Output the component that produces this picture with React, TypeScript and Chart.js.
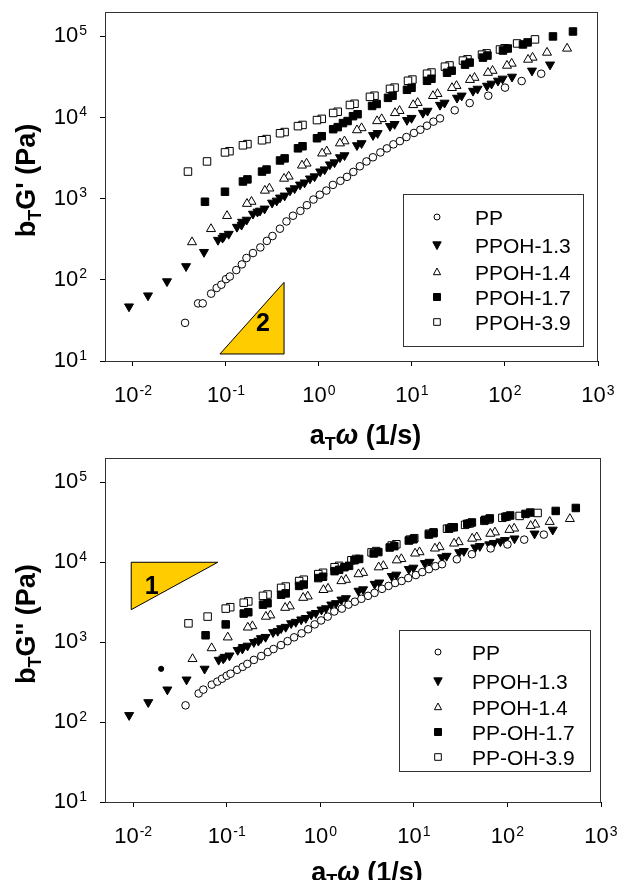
import React, { useEffect, useRef } from 'react';
import { Chart, registerables } from 'chart.js';

Chart.register(...registerables);

const FONT = '"Liberation Sans", Arial, Helvetica, sans-serif';

// ---------- data (frequency a_T·ω in 1/s, moduli in Pa) ----------
const ppFreq = [0.0363, 0.0501, 0.0562, 0.0692, 0.0794, 0.0891, 0.100, 0.110, 0.129, 0.148, 0.166, 0.195, 0.234, 0.275, 0.316, 0.380, 0.447, 0.525, 0.631, 0.741, 0.871, 1.02, 1.20, 1.41, 1.70, 2.00, 2.34, 2.75, 3.24, 3.80, 4.57, 5.37, 6.31, 7.41, 8.71, 10.5, 12.3, 14.5, 17.0, 20.0, 28.8, 41.7, 66.1, 100, 151, 245];
const ppG1 = [29.5, 51.3, 51.3, 67.6, 79.4, 87.1, 102, 110, 132, 155, 186, 214, 251, 302, 347, 427, 525, 617, 708, 832, 977, 1120, 1260, 1480, 1660, 1860, 2140, 2510, 2880, 3240, 3720, 4170, 4680, 5130, 5750, 6460, 7080, 7940, 8910, 9770, 12300, 15100, 18600, 23400, 28200, 34700];
const ppG2 = [162, 228, 255, 294, 321, 349, 380, 403, 451, 491, 535, 600, 671, 753, 820, 919, 1030, 1150, 1290, 1450, 1670, 1870, 2090, 2420, 2630, 2950, 3210, 3490, 3800, 4140, 4650, 5060, 5510, 5830, 6340, 6920, 7530, 8200, 8930, 9450, 10900, 12600, 14900, 16700, 19200, 22200];

const oh13Freq = [0.00906, 0.0145, 0.0232, 0.0372, 0.0580, 0.0820, 0.0951, 0.131, 0.149, 0.195, 0.232, 0.313, 0.381, 0.488, 0.625, 0.800, 1.03, 1.31, 1.68, 2.56, 3.81, 5.80, 8.83, 13.1, 20.0, 30.5, 45.3, 64.0, 84.1, 119, 195, 305];
const oh13G1 = [46.9, 64.1, 95.7, 147, 220, 310, 347, 449, 518, 651, 710, 891, 1030, 1260, 1490, 1770, 2160, 2640, 3230, 4550, 6060, 7840, 9310, 11400, 14300, 17500, 21300, 24600, 28400, 31800, 37800, 44900];
const oh13G2 = [122, 177, 255, 340, 464, 600, 653, 796, 867, 1000, 1120, 1330, 1490, 1720, 1920, 2220, 2550, 2950, 3400, 4390, 5350, 6710, 8200, 9730, 11500, 13300, 15300, 16700, 18200, 19800, 22800, 25500];
// second, overlapping run
const oh13FreqB = [0.0918, 0.107, 0.147, 0.167, 0.218, 0.260, 0.351, 0.427, 0.547, 0.700, 0.896, 1.15, 1.47, 1.88, 2.87, 4.27, 6.50, 9.89, 14.7, 22.4, 34.2, 50.7, 71.7, 94.2];
const oh13G1B = [329, 368, 476, 549, 690, 753, 944, 1090, 1340, 1580, 1880, 2290, 2800, 3420, 4820, 6420, 8310, 9870, 12100, 15200, 18600, 22600, 26100, 30100];
const oh13G2B = [624, 679, 828, 902, 1040, 1160, 1380, 1550, 1790, 2000, 2310, 2650, 3070, 3540, 4570, 5560, 6980, 8530, 10100, 12000, 13800, 15900, 17400, 18900];

const oh14Freq = [0.0431, 0.0690, 0.1026, 0.168, 0.262, 0.421, 0.656, 1.08, 1.68, 2.56, 4.21, 6.56, 10.3, 16.8, 26.9, 42.0, 65.6, 105, 177, 283, 465];
const oh14G1 = [292, 424, 615, 867, 1260, 1770, 2570, 3620, 4820, 7000, 9060, 11400, 14300, 18500, 23200, 29200, 35700, 43700, 51800, 63200, 71000];
const oh14G2 = [617, 843, 1150, 1530, 2090, 2700, 3600, 4510, 5820, 7110, 8670, 10600, 12900, 14900, 17200, 19800, 22800, 25500, 28600, 32100, 34900];
const oh14FreqB = [0.188, 0.293, 0.472, 0.735, 1.21, 1.88, 2.87, 4.72, 7.35, 11.5, 18.8, 30.1, 47.0, 73.5, 118, 198];
const oh14G1B = [919, 1340, 1880, 2720, 3840, 5110, 7420, 9600, 12100, 15200, 19600, 24600, 31000, 37800, 46300, 54900];
const oh14G2B = [1590, 2170, 2810, 3740, 4690, 6050, 7390, 9020, 11000, 13400, 15500, 17900, 20600, 23700, 26500, 29700];

const oh17Freq = [0.0594, 0.0975, 0.152, 0.244, 0.381, 0.594, 0.951, 1.42, 1.81, 2.32, 3.72, 5.52, 8.83, 14.5, 23.8, 37.2, 57.9, 95.1, 156, 328, 538];
const oh17G1 = [918, 1220, 1630, 2160, 2960, 4180, 5560, 7190, 8550, 10400, 13900, 17500, 22000, 28400, 35700, 44900, 54800, 67000, 79600, 100000, 115000];
const oh17G2 = [1220, 1670, 2280, 2950, 3920, 5060, 6340, 7740, 8670, 10600, 12900, 15300, 18700, 22200, 26300, 30300, 34000, 37000, 40300, 43900, 47800];
const oh17FreqB = [0.170, 0.273, 0.427, 0.665, 1.07, 1.59, 2.03, 2.60, 4.17, 6.18, 9.89, 16.2, 26.7, 41.7, 64.8, 107, 175];
const oh17G1B = [1730, 2290, 3140, 4430, 5890, 7620, 9060, 11000, 14700, 18600, 23300, 30100, 37800, 47600, 58100, 71000, 84400];
const oh17G2B = [2370, 3070, 4080, 5260, 6590, 8050, 9020, 11000, 13400, 15900, 19400, 23100, 27400, 31500, 35400, 38500, 41900];

const oh39Freq = [0.0390, 0.0625, 0.0975, 0.152, 0.244, 0.381, 0.594, 0.951, 1.42, 2.15, 3.53, 5.80, 9.06, 14.5, 22.6, 35.3, 56.6, 88.3, 135, 210];
const oh39G1 = [2160, 2880, 3720, 4550, 5250, 6410, 7840, 9310, 11400, 14300, 18000, 22600, 28400, 34700, 42400, 50400, 59700, 69000, 81900, 91900];
const oh39G2 = [1720, 2090, 2630, 3120, 3800, 4780, 5820, 7110, 8670, 10600, 13300, 16200, 19200, 22800, 26300, 29400, 33000, 36000, 38000, 41400];
const oh39FreqB = [0.109, 0.170, 0.273, 0.427, 0.665, 1.07, 1.59, 2.41, 3.95, 6.50, 10.1, 16.2, 25.3, 39.5, 63.4, 98.9];
const oh39G1B = [3850, 4710, 5430, 6630, 8110, 9640, 11800, 14800, 18600, 23400, 29400, 35900, 43900, 52200, 61800, 71400];
const oh39G2B = [2740, 3240, 3950, 4970, 6050, 7390, 9020, 11000, 13800, 16800, 20000, 23700, 27400, 30600, 34300, 37400];

const strayFreq = [0.0199];
const strayG2 = [464];

const topLabels = ['PP', 'PPOH-1.3', 'PPOH-1.4', 'PPOH-1.7', 'PPOH-3.9'];
const bottomLabels = ['PP', 'PPOH-1.3', 'PPOH-1.4', 'PP-OH-1.7', 'PP-OH-3.9'];

const xDecades = [0.01, 0.1, 1, 10, 100, 1000];
const yDecades = [10, 100, 1000, 10000, 100000];
const xMin = 0.005;
const xMax = 1000;
const yMin = 10;
const yMax = 200000;

// slope triangles (data coordinates)
const slope2X = [0.0861, 0.421];
const slope2Y = [12.2, 93.2];
const slope2Label = { x: 0.25, y: 29.7, text: '2' };
const slope1X = [0.00953, 0.0802];
const slope1Y = [2550, 10000];
const slope1Label = { x: 0.0158, y: 5060, text: '1' };

// ---------- styles ----------
type Kind = 'circle' | 'triDown' | 'triUp' | 'sq';
const markers: { kind: Kind; filled: boolean }[] = [
  { kind: 'circle', filled: false },
  { kind: 'triDown', filled: true },
  { kind: 'triUp', filled: false },
  { kind: 'sq', filled: true },
  { kind: 'sq', filled: false },
];

function pointProps(kind: Kind, filled: boolean) {
  const base: any = {
    backgroundColor: filled ? '#000' : '#fff',
    borderColor: '#000',
    borderWidth: 1,
    showLine: false,
  };
  if (kind === 'circle') return { ...base, pointStyle: 'circle', pointRadius: 3.8, pointRotation: 0 };
  if (kind === 'triDown') return { ...base, pointStyle: 'triangle', pointRadius: 5.2, pointRotation: 180 };
  if (kind === 'triUp') return { ...base, pointStyle: 'triangle', pointRadius: 5.2, pointRotation: 0 };
  return { ...base, pointStyle: 'rect', pointRadius: 5.3, pointRotation: 0 };
}

function zip(xs: number[], ys: number[]) {
  return xs.map((x, i) => ({ x, y: ys[i] }));
}

function drawMarker(ctx: CanvasRenderingContext2D, kind: Kind, filled: boolean, x: number, y: number, s: number) {
  ctx.beginPath();
  if (kind === 'circle') ctx.arc(x, y, s, 0, Math.PI * 2);
  else if (kind === 'sq') ctx.rect(x - s, y - s, 2 * s, 2 * s);
  else if (kind === 'triUp') {
    ctx.moveTo(x, y - s * 1.1);
    ctx.lineTo(x + s, y + s * 0.75);
    ctx.lineTo(x - s, y + s * 0.75);
    ctx.closePath();
  } else {
    ctx.moveTo(x, y + s * 1.1);
    ctx.lineTo(x + s, y - s * 0.75);
    ctx.lineTo(x - s, y - s * 0.75);
    ctx.closePath();
  }
  ctx.fillStyle = filled ? '#000' : '#fff';
  ctx.fill();
  ctx.lineWidth = 1;
  ctx.strokeStyle = '#000';
  ctx.stroke();
}

function drawPow(ctx: CanvasRenderingContext2D, x: number, y: number, exp: string, align: 'center' | 'right') {
  ctx.font = `22px ${FONT}`;
  const wb = ctx.measureText('10').width;
  ctx.font = `14px ${FONT}`;
  const we = ctx.measureText(exp).width;
  const total = wb + we + 1;
  const x0 = align === 'center' ? x - total / 2 : x - total;
  ctx.fillStyle = '#000';
  ctx.font = `22px ${FONT}`;
  ctx.fillText('10', x0, y);
  ctx.font = `14px ${FONT}`;
  ctx.fillText(exp, x0 + wb + 1, y - 7.5);
}

type Run = { t: string; font: string; dy?: number };
function drawRuns(ctx: CanvasRenderingContext2D, runs: Run[], cx: number, y: number) {
  let total = 0;
  runs.forEach((r) => {
    ctx.font = r.font;
    total += ctx.measureText(r.t).width;
  });
  let x = cx - total / 2;
  runs.forEach((r) => {
    ctx.font = r.font;
    ctx.fillText(r.t, x, y + (r.dy || 0));
    x += ctx.measureText(r.t).width;
  });
}

const TB = `bold 27px ${FONT}`;
const TS = `bold 18px ${FONT}`;

type Decor = {
  prime: string;
  xTitleDy: number;
  legendLabels: string[];
  legendBox: { x: number; y: number; w: number; h: number };
  legendRows: number[];
  legendMarkerX: number;
  legendTextX: number;
  tri: { xs: number[]; ys: number[]; label: { x: number; y: number; text: string }; kind: 'rise' | 'flat' };
};

function makeDecorPlugin(d: Decor) {
  return {
    id: 'decor',
    afterDraw(chart: any) {
      const { ctx, chartArea: a, scales } = chart;
      const xs = scales.x;
      const ys = scales.y;
      ctx.save();
      // frame
      ctx.strokeStyle = '#333';
      ctx.lineWidth = 1;
      ctx.strokeRect(Math.round(a.left) + 0.5, Math.round(a.top) + 0.5, Math.round(a.right - a.left) - 1, Math.round(a.bottom - a.top));
      ctx.textBaseline = 'alphabetic';
      ctx.textAlign = 'left';
      // tick labels
      xDecades.forEach((v) => {
        drawPow(ctx, xs.getPixelForValue(v), a.bottom + 41, String(Math.round(Math.log10(v))), 'center');
      });
      yDecades.forEach((v) => {
        drawPow(ctx, a.left - 18, ys.getPixelForValue(v) + 6, String(Math.round(Math.log10(v))), 'right');
      });
      // x title
      ctx.fillStyle = '#000';
      drawRuns(
        ctx,
        [
          { t: 'a', font: TB },
          { t: 'T', font: TS, dy: 6 },
          { t: 'ω', font: `italic bold 27px ${FONT}` },
          { t: ' (1/s)', font: TB },
        ],
        (a.left + a.right) / 2 + 14,
        a.bottom + d.xTitleDy
      );
      // y title
      ctx.save();
      ctx.translate(35, (a.top + a.bottom) / 2 - 6);
      ctx.rotate(-Math.PI / 2);
      drawRuns(
        ctx,
        [
          { t: 'b', font: TB },
          { t: 'T', font: TS, dy: 6 },
          { t: 'G' + d.prime + ' (Pa)', font: TB },
        ],
        0,
        0
      );
      ctx.restore();
      // slope triangle
      const t = d.tri;
      const px0 = xs.getPixelForValue(t.xs[0]);
      const px1 = xs.getPixelForValue(t.xs[1]);
      const py0 = ys.getPixelForValue(t.ys[0]);
      const py1 = ys.getPixelForValue(t.ys[1]);
      ctx.beginPath();
      if (t.kind === 'rise') {
        ctx.moveTo(px0, py0);
        ctx.lineTo(px1, py0);
        ctx.lineTo(px1, py1);
      } else {
        ctx.moveTo(px0, py1);
        ctx.lineTo(px1, py1);
        ctx.lineTo(px0, py0);
      }
      ctx.closePath();
      ctx.fillStyle = '#FFCC00';
      ctx.fill();
      ctx.strokeStyle = '#000';
      ctx.lineWidth = 1;
      ctx.stroke();
      ctx.fillStyle = '#000';
      ctx.font = `bold 25px ${FONT}`;
      ctx.textAlign = 'center';
      ctx.textBaseline = 'middle';
      ctx.fillText(t.label.text, xs.getPixelForValue(t.label.x), ys.getPixelForValue(t.label.y) + 1);
      // legend
      const b = d.legendBox;
      ctx.fillStyle = '#fff';
      ctx.fillRect(b.x, b.y, b.w, b.h);
      ctx.strokeStyle = '#333';
      ctx.strokeRect(b.x + 0.5, b.y + 0.5, b.w, b.h);
      ctx.textAlign = 'left';
      ctx.textBaseline = 'alphabetic';
      const legendSizes = [3, 4.2, 3.6, 3.5, 3.3];
      d.legendLabels.forEach((lab, i) => {
        const m = markers[i];
        const ry = d.legendRows[i];
        drawMarker(ctx, m.kind, m.filled, d.legendMarkerX, ry, legendSizes[i]);
        ctx.fillStyle = '#000';
        ctx.font = `21px ${FONT}`;
        ctx.fillText(lab, d.legendTextX, ry + 7.5);
      });
      ctx.restore();
    },
  };
}

type Series = { freq: number[]; vals: number[]; style: number };

function makeConfig(series: Series[], extra: { freq: number[]; vals: number[] } | null, pad: any, xH: number, d: Decor): any {
  const datasets: any[] = series.map((s) => ({
    label: d.legendLabels[s.style],
    data: zip(s.freq, s.vals),
    ...pointProps(markers[s.style].kind, markers[s.style].filled),
  }));
  if (extra) {
    datasets.push({
      label: 'stray',
      data: zip(extra.freq, extra.vals),
      pointStyle: 'circle',
      pointRadius: 2.6,
      backgroundColor: '#000',
      borderColor: '#000',
      borderWidth: 1,
      showLine: false,
    });
  }
  return {
    type: 'scatter',
    data: { datasets },
    options: {
      responsive: false,
      animation: false,
      devicePixelRatio: 1,
      layout: { padding: pad },
      plugins: { legend: { display: false }, tooltip: { enabled: false } },
      scales: {
        x: {
          type: 'logarithmic',
          min: xMin,
          max: xMax,
          border: { display: false },
          grid: { display: true, drawOnChartArea: false, drawTicks: true, tickLength: 5, color: '#000', lineWidth: 1 },
          ticks: { display: false },
          afterBuildTicks: (sc: any) => {
            sc.ticks = xDecades.map((v) => ({ value: v }));
          },
          afterFit: (sc: any) => {
            sc.height = xH;
          },
        },
        y: {
          type: 'logarithmic',
          min: yMin,
          max: yMax,
          border: { display: false },
          grid: { display: true, drawOnChartArea: false, drawTicks: true, tickLength: 5, color: '#000', lineWidth: 1 },
          ticks: { display: false },
          afterBuildTicks: (sc: any) => {
            sc.ticks = yDecades.map((v) => ({ value: v }));
          },
          afterFit: (sc: any) => {
            sc.width = 105;
          },
        },
      },
    },
    plugins: [makeDecorPlugin(d)],
  };
}

export default function App() {
  const topRef = useRef<HTMLCanvasElement>(null);
  const botRef = useRef<HTMLCanvasElement>(null);

  useEffect(() => {
    const topDecor: Decor = {
      prime: "'",
      xTitleDy: 83,
      legendLabels: topLabels,
      legendBox: { x: 403, y: 194, w: 180, h: 152 },
      legendRows: [217, 245, 272, 297, 322],
      legendMarkerX: 437,
      legendTextX: 475,
      tri: { xs: slope2X, ys: slope2Y, label: slope2Label, kind: 'rise' },
    };
    const botDecor: Decor = {
      prime: "''",
      xTitleDy: 79,
      legendLabels: bottomLabels,
      legendBox: { x: 399, y: 178, w: 191, h: 141 },
      legendRows: [200, 229, 255, 280, 305],
      legendMarkerX: 438,
      legendTextX: 472,
      tri: { xs: slope1X, ys: slope1Y, label: slope1Label, kind: 'flat' },
    };
    const top = new Chart(
      topRef.current as HTMLCanvasElement,
      makeConfig(
        [
          { freq: ppFreq, vals: ppG1, style: 0 },
          { freq: oh13Freq, vals: oh13G1, style: 1 },
          { freq: oh13FreqB, vals: oh13G1B, style: 1 },
          { freq: oh14Freq, vals: oh14G1, style: 2 },
          { freq: oh14FreqB, vals: oh14G1B, style: 2 },
          { freq: oh17Freq, vals: oh17G1, style: 3 },
          { freq: oh17FreqB, vals: oh17G1B, style: 3 },
          { freq: oh39Freq, vals: oh39G1, style: 4 },
          { freq: oh39FreqB, vals: oh39G1B, style: 4 },
        ],
        null,
        { top: 12, right: 23, left: 0, bottom: 0 },
        91,
        topDecor
      )
    );
    const bot = new Chart(
      botRef.current as HTMLCanvasElement,
      makeConfig(
        [
          { freq: ppFreq, vals: ppG2, style: 0 },
          { freq: oh13Freq, vals: oh13G2, style: 1 },
          { freq: oh13FreqB, vals: oh13G2B, style: 1 },
          { freq: oh14Freq, vals: oh14G2, style: 2 },
          { freq: oh14FreqB, vals: oh14G2B, style: 2 },
          { freq: oh17Freq, vals: oh17G2, style: 3 },
          { freq: oh17FreqB, vals: oh17G2B, style: 3 },
          { freq: oh39Freq, vals: oh39G2, style: 4 },
          { freq: oh39FreqB, vals: oh39G2B, style: 4 },
        ],
        { freq: strayFreq, vals: strayG2 },
        { top: 1, right: 20, left: 0, bottom: 0 },
        78,
        botDecor
      )
    );
    return () => {
      top.destroy();
      bot.destroy();
    };
  }, []);

  return (
    <div style={{ position: 'absolute', left: 0, top: 0, width: 621, height: 880, background: '#fff', overflow: 'hidden' }}>
      <canvas ref={topRef} width={621} height={452} style={{ position: 'absolute', left: 0, top: 0, width: 621, height: 452 }} />
      <canvas ref={botRef} width={621} height={428} style={{ position: 'absolute', left: 0, top: 452, width: 621, height: 428 }} />
    </div>
  );
}
